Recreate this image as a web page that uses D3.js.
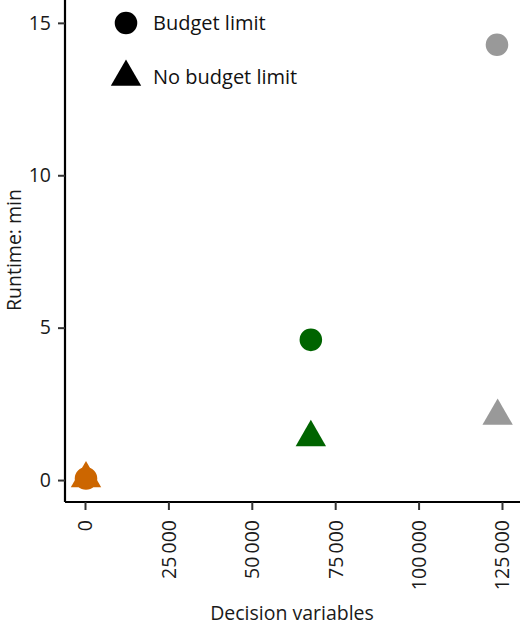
<!DOCTYPE html>
<html><head><meta charset="utf-8">
<script src="https://cdn.jsdelivr.net/npm/d3@7"></script>
<style>body{margin:0;background:#fff}text{font-family:"Open Sans",sans-serif}</style>
</head><body><svg id="c" width="520" height="627"></svg>
<script>
const decisionVars = [300, 300, 67700, 67700, 123500, 123700];
const runtimeMin   = [0.05, 0.05, 4.6, 1.4, 14.28, 2.1];
const budgetType   = ["Budget limit", "No budget limit", "Budget limit", "No budget limit", "Budget limit", "No budget limit"];
const pointColors  = ["#CC6600", "#CC6600", "#006400", "#006400", "#999999", "#999999"];
const xTicks = [0, 25000, 50000, 75000, 100000, 125000];
const yTicks = [0, 5, 10, 15];
const legendLabels = ["Budget limit", "No budget limit"];

const svg = d3.select("#c");
const x = d3.scaleLinear().domain([-5995, 130400]).range([65, 520]);
const y = d3.scaleLinear().domain([-0.72, 15.75]).range([502, 0]);
const shape = t => t === "Budget limit" ? d3.symbolCircle : d3.symbolTriangle;
const sym = d3.symbol().type(d => shape(d)).size(400);
const fmt = v => d3.format(",")(v).replace(/,/g, "\u2009");
const FS = 19.5;

const gx = svg.append("g").attr("transform", "translate(0,502)")
  .call(d3.axisBottom(x).tickValues(xTicks).tickSize(8).tickPadding(6).tickFormat(fmt));
gx.selectAll("text").attr("transform", "rotate(-90)").attr("text-anchor", "end")
  .attr("x", -18).attr("y", 0).attr("dy", "0.35em");
const gy = svg.append("g").attr("transform", "translate(65,0)")
  .call(d3.axisLeft(y).tickValues(yTicks).tickSize(7).tickPadding(7));
[gx, gy].forEach(g => {
  g.select(".domain").attr("stroke", "#000").attr("stroke-width", 2.2);
  g.selectAll(".tick line").attr("stroke", "#333").attr("stroke-width", 2);
  g.selectAll("text").attr("font-size", FS).attr("fill", "#1a1a1a").attr("font-family", '"Open Sans",sans-serif');
});
gx.select(".domain").attr("d", "M65,0H520");
gy.select(".domain").attr("d", "M0,0V502");

svg.append("g").selectAll("path").data(decisionVars).join("path")
  .attr("transform", (d, i) => `translate(${x(d)},${y(runtimeMin[i])})`)
  .attr("d", (d, i) => sym(budgetType[i]))
  .attr("fill", (d, i) => pointColors[i]);

const lg = svg.append("g");
legendLabels.forEach((l, i) => {
  const cy = 23 + i * 54;
  lg.append("path").attr("transform", `translate(126,${cy})`).attr("d", sym(l)).attr("fill", "#000");
  lg.append("text").attr("x", 153).attr("y", cy).attr("dy", "0.35em").attr("font-size", FS + 0.5).attr("fill", "#111").text(l);
});

svg.append("text").attr("x", 292).attr("y", 613).attr("dy", "0.35em").attr("text-anchor", "middle")
  .attr("font-size", FS).attr("fill", "#1a1a1a").text("Decision variables");
svg.append("text").attr("transform", "translate(14,250) rotate(-90)").attr("dy", "0.35em").attr("text-anchor", "middle")
  .attr("font-size", FS).attr("fill", "#1a1a1a").text("Runtime: min");
</script></body></html>
